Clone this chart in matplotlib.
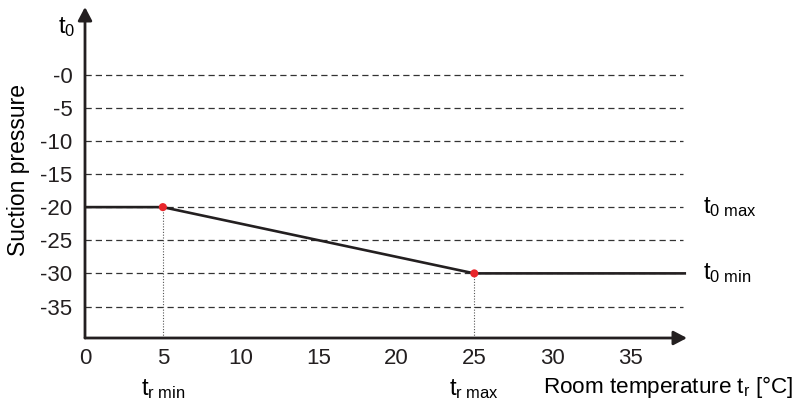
import matplotlib
matplotlib.use("Agg")
import matplotlib.pyplot as plt

plt.rcParams['font.family'] = ['Liberation Sans', 'DejaVu Sans']
plt.rcParams['mathtext.fontset'] = 'custom'
plt.rcParams['mathtext.rm'] = 'Liberation Sans'
plt.rcParams['mathtext.it'] = 'Liberation Sans'

# data
line_x = [0, 5, 25, 38.6]
line_y = [-20, -20, -30, -30]
point_x = [5, 25]
point_y = [-20, -30]
point_labels = [r'$\mathregular{t_{r\ min}}$', r'$\mathregular{t_{r\ max}}$']
y_ticks = [0, -5, -10, -15, -20, -25, -30, -35]
y_ticklabels = ['-0', '-5', '-10', '-15', '-20', '-25', '-30', '-35']
x_ticks = [0, 5, 10, 15, 20, 25, 30, 35]
x_ticklabels = ['0', '5', '10', '15', '20', '25', '30', '35']
level_labels = [r'$\mathregular{t_{0\ max}}$', r'$\mathregular{t_{0\ min}}$']

XMAX = 38.66
YMIN, YMAX = -39.75, 10.2
GRID_END = 38.4

fig = plt.figure(figsize=(8.05, 4.09), dpi=100)
ax = fig.add_axes([85/805, 1-338/409, (687-85)/805, (338-7)/409])
ax.set_xlim(0, XMAX)
ax.set_ylim(YMIN, YMAX)
for s in ax.spines.values():
    s.set_visible(False)

fs = 16
ax.set_xticks(x_ticks)
ax.set_xticklabels(x_ticklabels, fontsize=fs)
ax.set_yticks(y_ticks)
ax.set_yticklabels(y_ticklabels, fontsize=fs)
ax.tick_params(axis='y', length=0, pad=9, colors='#231f20')
ax.tick_params(axis='x', length=0, pad=7, colors='#231f20')

# dashed grid
for yv in y_ticks:
    ax.plot([0, GRID_END], [yv, yv], ls=(0, (5, 3.2)), color='#333333', lw=0.9, zorder=1)

# axes arrows
arrow_kw = dict(arrowstyle='-|>,head_length=0.8,head_width=0.42', color='#231f20', lw=2.0,
                shrinkA=0, shrinkB=0)
ax.annotate('', xy=(XMAX, YMIN), xytext=(0, YMIN), arrowprops=arrow_kw, annotation_clip=False, zorder=5)
ax.annotate('', xy=(0, YMAX), xytext=(0, YMIN), arrowprops=arrow_kw, annotation_clip=False, zorder=5)

# dotted verticals
for px, py in zip(point_x, point_y):
    ax.plot([px, px], [YMIN, py], ls=(0, (1, 1.5)), color='#555555', lw=0.8, zorder=2)

# main line
ax.plot(line_x, line_y, color='#231f20', lw=1.9, zorder=3, solid_capstyle='butt')
ax.scatter(point_x, point_y, s=34, color='#e8262b', zorder=4, edgecolors='none')

lfs = 16.5
# level labels on right
for lab, yv in zip(level_labels, [-20, -30]):
    ax.text(39.7, yv, lab, fontsize=lfs + 0.5, va='center', ha='left', clip_on=False)

# point labels below
for lab, px in zip(point_labels, point_x):
    ax.text(px, -47.5, lab, fontsize=lfs + 0.5, va='center', ha='center', clip_on=False)

ax.text(29.4, -47.2, r'Room temperature $\mathregular{t_r}$ [°C]', fontsize=lfs - 0.3, va='center', ha='left', clip_on=False)

# y label
fig.text(18/805, 1-170/409, 'Suction pressure', rotation=90, fontsize=lfs, va='center', ha='center')
fig.text(67/805, 1-27/409, r'$\mathregular{t_0}$', fontsize=lfs + 0.5, va='center', ha='center')

fig.savefig('out.png', dpi=100)
